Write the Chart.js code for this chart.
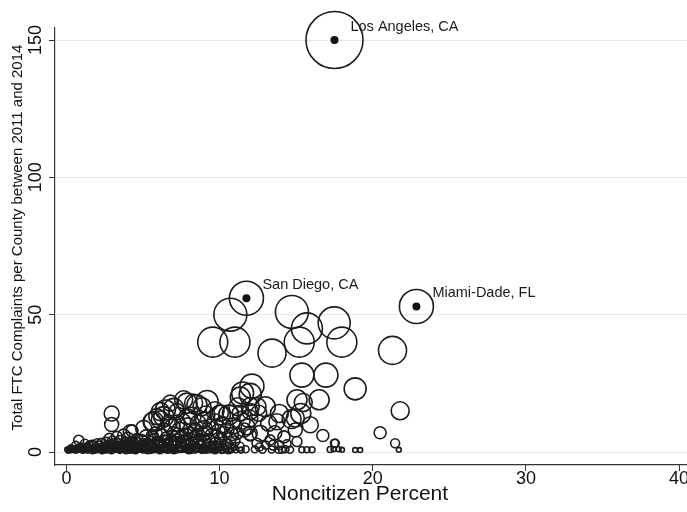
<!DOCTYPE html>
<html><head><meta charset="utf-8">
<script src="https://cdn.jsdelivr.net/npm/chart.js@4"></script>
<style>html,body{margin:0;padding:0;background:#fff;overflow:hidden}#wrap{width:687px;height:512px}</style>
</head><body><div id="wrap"><canvas id="c" width="687" height="512"></canvas></div>
<script>
const xTickValues = [0, 10, 20, 30, 40];
const yTickValues = [0, 50, 100, 150];
const xTitle = 'Noncitizen Percent';
const yTitle = 'Total FTC Complaints per County between 2011 and 2014';

// labeled counties: name, noncitizen %, complaints, size weight
const labeledNames = ['Los Angeles, CA', 'San Diego, CA', 'Miami-Dade, FL'];
const labeledPct = [17.5, 11.75, 22.85];
const labeledComplaints = [150, 56, 53];
const labeledWeight = [812, 289, 289];

// other counties as [noncitizen %, complaints, size weight]
const largeCounties = [
 [10.7,50,272],[9.55,40,225],[11.0,40,225],[14.72,51,272],[15.7,45,240],[17.48,47,256],
 [15.2,40,225],[17.98,40,225],[13.42,36,196],[21.29,37,196],[15.37,28,144],[16.94,28,144],
 [18.85,23,121],[12.11,24,144],[21.79,15,81]
];
const midCounties = [
 [12.0,21,121],[11.35,20,100],[11.5,21.5,121],[16.5,19,100],[15.05,19,100],[15.46,18,81],
 [14.94,12.4,81],[15.3,14,100],[14.7,12,90],[15.92,9.9,64],[14.94,8,49],[16.74,6,36],
 [15.05,3.8,25],[17.5,3.2,16],[20.48,7,36],[21.46,3.2,20],[21.7,0.8,6],
 [5.9,12.9,64],[6.13,14.7,81],[6.46,15.3,100],[6.78,17.8,64],[7.0,15.9,100],[7.22,14.7,64],
 [7.65,19,81],[7.87,17.8,100],[7.87,12.9,64],[8.3,17.8,81],[8.52,17.2,100],[8.85,16.5,81],
 [8.96,11.7,64],[9.18,18.4,121],[10.05,14.1,64],[10.05,13.5,100],[10.59,13.5,100],[10.7,14.1,64],
 [11.35,14.1,64],[12.0,16.5,81],[12.44,16.5,81],[12.98,16.5,100],[12.0,14.7,64],[12.55,14.1,64],
 [13.74,11,64],[13.2,10.5,64],[11.79,9.2,64],[12.65,6.8,64],[12.0,6.2,36],[13.3,4.4,25],
 [12.44,3.2,25],[11.13,6.8,36],[10.48,8,49],[10.26,6.8,49],[12.0,6.8,49],[5.04,8.6,64],
 [5.59,11,81],[6.13,11.7,81],[5.7,11,100],[6.35,12.9,100],[4.28,7.7,36],[3.74,6.2,36],
 [4.17,7.4,49],[2.95,14,56],[2.95,10,49],[0.8,4.3,25],[1.67,2.8,16],
 [8.1,6.5,49],[8.6,10.5,64],[9.0,8.5,64],[9.7,11,64],[10.2,10,64],[10.9,9.5,64],[11.4,11.5,81],
 [11.6,8,49],[9.5,6,49],[10.7,5,36],[7.6,11,64],[7.2,10.5,64],[6.7,10.5,64],[8.2,13,81],
 [9.1,13.5,81],[9.7,15,81],[11.2,16.5,81],[11.9,12.2,81],[13.6,7,49],[13.9,14,81],[14.2,5.5,36],
 [13.5,2.5,25]
];
const smallCounties = [
 [4.6,4.5,36],[5.2,5.5,49],[5.8,6.5,49],[6.4,7.5,64],[6.9,9,64],[7.4,8,64],[7.9,9.5,64],
 [8.4,8,49],[8.9,6.5,49],[9.4,9,64],[9.8,5.5,49],[7.1,5,49],[7.7,4,36],[8.2,3.5,36],
 [8.7,4.5,36],[9.2,3,25],[9.6,2.2,25],[6.0,3.5,36],[6.6,4,36],[5.4,3,25],[4.9,2.5,25],
 [4.4,3,25],[3.9,3.5,25],[3.4,3,25],[3.0,4,25],[2.6,3.5,25],[2.2,2.5,16],[2.0,3.2,20],
 [1.3,2,12],[1.0,1.5,12],[3.6,2,16],[4.1,1.5,16],[5.0,1.5,16],[5.6,2,25],[6.3,2,25],
 [6.9,2.5,25],[7.4,2,25],[8.0,1.5,20],[8.6,1.5,16],[9.1,1.0,16],[9.9,1.5,16],[10.5,3,25],
 [11.0,4,25],[10.8,1.5,16],[11.3,2,20],[13.9,2.5,20],[14.4,3,16],[13.0,2.5,16],[12.6,1.8,16],
 [11.7,1,12],[12.3,1,12],[12.8,0.8,12],[13.4,0.9,12],[13.85,0.8,12],[14.07,0.8,12],[14.3,1.0,12],
 [14.6,0.8,12],[15.37,0.8,9],[15.7,0.8,9],[16.03,0.8,9],[17.22,0.9,9],[17.44,1,6],[17.77,1,6],
 [17.99,0.8,6],[18.85,0.7,6],[19.18,0.7,6],[17.55,3.2,16],
 [1.5,2.5,16],[1.9,1.5,20],[2.3,3.2,25],[2.7,2.2,20],[3.1,3.0,25],[3.5,4.0,30],[3.9,2.4,25],
 [4.3,3.6,30],[4.6,2.0,25],[4.9,4.2,36],[5.3,2.5,30],[5.7,4.4,36],[6.1,2.6,30],[6.5,5.0,36],
 [6.8,2.8,30],[7.1,3.5,36],[7.5,5.5,42],[7.9,3.0,30],[8.3,5.2,36],[8.8,2.6,30],[9.3,4.5,36],
 [9.7,3.2,30],[10.1,4.8,36],[10.4,2.0,25],[1.2,3.0,20],[0.6,2.4,16],[2.8,4.8,30],[3.3,5.5,30],
 [4.0,5.0,36],[5.6,5.9,36],[6.2,6.0,42],[7.0,6.8,42],[7.8,6.4,42],[8.5,6.0,42],[9.1,7.0,49],
 [9.9,7.5,49],[10.8,6.5,42],[1.8,0.8,12],[2.6,1.1,16],[3.4,1.3,16],[4.2,1.0,16],[5.0,1.1,16],
 [5.8,1.2,16],[6.6,1.0,16],[7.3,1.2,16],[8.1,1.1,16],[8.9,1.2,16],[9.6,1.3,16],[10.3,1.1,16]
];
const tinyCounties = [
 [0.05,0.9,6],[0.2,1.1,6],[0.38,0.7,6],[0.52,1.2,9],[0.69,0.8,6],[0.83,1.0,9],[1.02,0.6,6],
 [1.17,1.3,9],[1.31,0.9,6],[1.48,1.1,9],[1.63,0.7,6],[1.79,1.4,9],[1.95,0.8,9],[2.08,1.2,9],
 [2.24,0.6,6],[2.41,1.5,12],[2.55,0.9,9],[2.72,1.3,9],[2.86,0.7,6],[3.02,1.6,12],[3.17,0.9,9],
 [3.33,1.2,9],[3.49,0.6,9],[3.66,1.7,12],[3.8,1.0,9],[3.97,1.4,12],[4.12,0.7,9],[4.29,1.8,12],
 [4.43,1.1,9],[4.58,0.8,9],[4.76,1.5,12],[4.91,1.0,9],[5.08,2.1,12],[5.22,0.8,9],[5.39,1.3,12],
 [5.53,0.6,9],[5.71,1.7,12],[5.86,1.0,9],[6.04,0.7,9],[6.19,1.4,12],[6.37,0.9,9],[6.55,1.9,12],
 [6.72,0.8,9],[6.93,1.3,12],[7.12,0.7,9],[7.33,1.6,12],[7.51,0.9,9],[7.74,1.2,12],[7.92,0.6,9],
 [8.15,1.0,12],[8.38,0.7,9],[8.62,1.1,9],[8.84,0.6,9],[9.07,1.3,12],[9.31,0.8,9],[9.58,0.7,9],
 [9.85,0.9,9],[10.12,0.6,9],[10.43,1.0,9],[10.71,0.7,9],[11.05,0.8,9],[11.4,0.7,9],
 [0.3,1.5,9],[0.9,2,12],[1.4,1.8,12],[1.8,2.5,16],[2.4,2,16],[2.9,2.8,20],[3.3,2.2,20],
 [3.8,3,25],[4.2,2.5,25],[4.7,3.2,30],[5.1,2.8,30],[5.5,3.5,36],[6.0,3,36],[6.4,4,36],
 [6.8,3.5,42],[7.2,4.2,42],[7.6,3.8,42],[8.1,4.5,42],[8.5,3.5,36],[9.0,4,36],
 [0.12,0.5,6],[0.28,0.8,9],[0.45,1.0,9],[0.61,0.5,6],[0.77,1.4,9],[0.95,0.9,9],[1.1,0.5,6],
 [1.24,1.6,12],[1.39,0.7,9],[1.55,1.3,12],[1.71,0.5,9],[1.87,1.9,12],[2.02,0.9,9],[2.17,1.6,12],
 [2.33,0.5,9],[2.49,2.2,12],[2.63,1.1,9],[2.79,1.8,12],[2.94,0.5,9],[3.09,2.3,16],[3.25,1.4,12],
 [3.41,0.9,9],[3.57,2.5,16],[3.73,1.3,12],[3.89,0.5,9],[4.05,2.2,16],[4.21,1.2,12],[4.36,2.6,16],
 [4.51,0.5,9],[4.67,1.9,16],[4.84,1.3,12],[4.99,3.0,16],[5.15,1.2,12],[5.31,0.5,9],[5.46,2.3,16],
 [5.62,1.1,12],[5.78,2.8,20],[5.94,1.5,12],[6.11,0.5,9],[6.27,2.6,16],[6.46,1.3,12],[6.63,3.2,20],
 [6.81,1.6,16],[7.01,0.5,9],[7.21,2.8,20],[7.42,1.2,12],[7.62,2.5,16],[7.83,1.4,12],[8.03,0.5,9],
 [8.26,2.6,16],[8.49,1.5,12],[8.73,2.9,16],[8.95,1.2,12],[9.18,2.0,16],[9.44,1.6,12],[9.71,0.5,9],
 [9.95,2.4,16],[10.27,1.8,12],[10.59,0.5,9],[10.95,2.2,12]
];

const FONT = '"Liberation Sans", Arial, Helvetica, sans-serif';
const toBubble = p => ({x: p[0], y: p[1], r: Math.sqrt(p[2])});
const circleData = [
  ...labeledPct.map((v, i) => toBubble([v, labeledComplaints[i], labeledWeight[i]])),
  ...largeCounties.map(toBubble), ...midCounties.map(toBubble),
  ...smallCounties.map(toBubble), ...tinyCounties.map(toBubble)
];
const dotData = labeledPct.map((v, i) => ({x: v, y: labeledComplaints[i], r: 4}));

const labelPlugin = {
  id: 'countyLabels',
  afterDatasetsDraw(chart) {
    const {ctx, chartArea: a, scales: {x, y}} = chart;
    ctx.save();
    ctx.fillStyle = '#1a1a1a';
    ctx.font = '14.5px ' + FONT;
    ctx.textAlign = 'left';
    ctx.textBaseline = 'middle';
    labeledNames.forEach((name, i) => {
      ctx.fillText(name, x.getPixelForValue(labeledPct[i]) + 16, y.getPixelForValue(labeledComplaints[i]) - 13.5);
    });
    // axis titles
    ctx.fillStyle = '#111';
    ctx.textAlign = 'center';
    ctx.font = '21px ' + FONT;
    ctx.fillText(xTitle, (a.left + a.right) / 2 - 11, 494.5);
    ctx.save();
    ctx.translate(17.5, (a.top + a.bottom) / 2 - 9);
    ctx.rotate(-Math.PI / 2);
    ctx.font = '15px ' + FONT;
    ctx.fillText(yTitle, 0, 0);
    ctx.restore();
    ctx.restore();
  }
};

new Chart(document.getElementById('c'), {
  type: 'bubble',
  data: {
    datasets: [
      {data: circleData, backgroundColor: 'rgba(0,0,0,0)', borderColor: '#1c1c1c', borderWidth: 1.6,
       hoverRadius: 0, hoverBorderWidth: 1.6, clip: false},
      {data: dotData, backgroundColor: '#111', borderColor: '#111', borderWidth: 0, hoverRadius: 0, clip: false}
    ]
  },
  options: {
    responsive: false, animation: false, devicePixelRatio: 1, events: [],
    layout: {autoPadding: false, padding: {top: 28, left: 0, right: 0, bottom: 0}},
    plugins: {legend: {display: false}, tooltip: {enabled: false}},
    scales: {
      x: {
        type: 'linear', min: -0.75, max: 40.52, bounds: 'data',
        afterBuildTicks: s => { s.ticks = xTickValues.map(v => ({value: v})); },
        afterFit: s => { s.height = 47; s.paddingLeft = 0; s.paddingRight = 0; },
        ticks: {font: {family: FONT, size: 18}, color: '#111', padding: -3, maxRotation: 0, minRotation: 0},
        grid: {drawOnChartArea: false, drawTicks: true, tickLength: 6, tickColor: '#333', tickWidth: 1},
        border: {display: true, color: '#333', width: 1.2},
        title: {display: false}
      },
      y: {
        type: 'linear', min: -4.73, max: 154.37, bounds: 'data',
        afterBuildTicks: s => { s.ticks = yTickValues.map(v => ({value: v})); },
        afterFit: s => { s.width = 55; s.paddingTop = 0; s.paddingBottom = 0; },
        ticks: {font: {family: FONT, size: 18}, color: '#111', minRotation: 90, maxRotation: 90, crossAlign: 'center', padding: -2},
        grid: {color: '#e8e8e8', lineWidth: 1, drawTicks: true, tickLength: 6, tickColor: '#333', tickWidth: 1},
        border: {display: true, color: '#333', width: 1.2},
        title: {display: false}
      }
    }
  },
  plugins: [labelPlugin]
});
</script>
</body></html>
